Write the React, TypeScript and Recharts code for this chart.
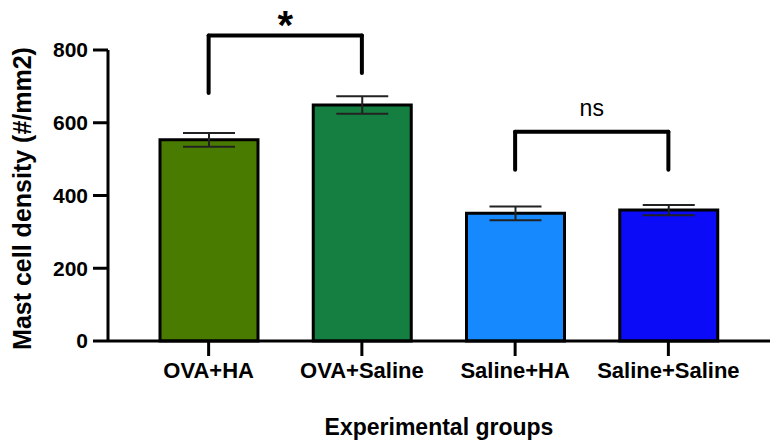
import { BarChart, Bar, XAxis, YAxis, ErrorBar, Cell, ReferenceLine } from "recharts";

const groups = ["OVA+HA", "OVA+Saline", "Saline+HA", "Saline+Saline"];
const density = [553, 649, 351, 360];
const sem = [19, 24, 19, 14];
const barColors = ["#487b00", "#157f42", "#1789ff", "#0b0bf7"];
const yTicks = [0, 200, 400, 600, 800];

// significance brackets: [left group, right group], top, left leg end, right leg end
const bracketPairs = [
  ["OVA+HA", "OVA+Saline"],
  ["Saline+HA", "Saline+Saline"],
];
const bracketTop = [840, 575];
const bracketLeftEnd = [682, 471];
const bracketRightEnd = [737, 471];
const bracketText = ["*", "ns"];

const data = groups.map((g, i) => ({ group: g, value: density[i], err: sem[i] }));

const FONT = "'Liberation Sans', Arial, Helvetica, sans-serif";

function Bracket({ idx }: { idx: number }) {
  return null;
}

export default function App() {
  const line = { stroke: "#000", strokeWidth: 4, strokeLinecap: "round" as const, ifOverflow: "visible" as const };

  return (
    <div style={{ position: "absolute", left: 0, top: 0, background: "#fff" }}>
      <BarChart
        width={776}
        height={446}
        data={data}
        margin={{ top: 50, right: 6, bottom: 0, left: 0 }}
        barCategoryGap={0}
      >
        <XAxis
          dataKey="group"
          stroke="#000"
          strokeWidth={3}
          tickSize={15}
          tickMargin={6}
          height={105}
          padding={{ left: 24, right: 25 }}
          tick={{ fill: "#000", fontSize: 22, fontWeight: 700, fontFamily: FONT }}
          tickLine={{ stroke: "#000", strokeWidth: 3 }}
          label={(props: any) => {
            const vb = props.viewBox;
            return (
              <text
                x={vb.x + vb.width / 2}
                y={vb.y + 86}
                textAnchor="middle"
                dominantBaseline="central"
                fontFamily={FONT}
                fontSize={23}
                fontWeight={700}
                fill="#000"
              >
                Experimental groups
              </text>
            );
          }}
        />
        <YAxis
          domain={[0, 800]}
          ticks={yTicks}
          width={108}
          stroke="#000"
          strokeWidth={3}
          tickSize={15}
          tickMargin={5}
          tick={{ fill: "#000", fontSize: 21, fontWeight: 700, fontFamily: FONT }}
          tickLine={{ stroke: "#000", strokeWidth: 3 }}
          label={(props: any) => {
            const vb = props.viewBox;
            const cx = vb.x + 22;
            const cy = vb.y + vb.height / 2 + 3;
            return (
              <text
                x={cx}
                y={cy}
                transform={`rotate(-90, ${cx}, ${cy})`}
                textAnchor="middle"
                dominantBaseline="central"
                fontFamily={FONT}
                fontSize={25}
                fontWeight={700}
                fill="#000"
              >
                Mast cell density (#/mm2)
              </text>
            );
          }}
        />
        <Bar dataKey="value" barSize={98} stroke="#000" strokeWidth={3} isAnimationActive={false}>
          {data.map((d, i) => (
            <Cell key={d.group} fill={barColors[i]} />
          ))}
          <ErrorBar dataKey="err" width={26} stroke="#222" strokeWidth={2} isAnimationActive={false} />
        </Bar>
        {bracketPairs.map(([a, b], i) => [
          <ReferenceLine
            key={`h${i}`}
            {...line}
            segment={[
              { x: a, y: bracketTop[i] },
              { x: b, y: bracketTop[i] },
            ]}
            label={(props: any) => {
              const vb = props.viewBox;
              const star = bracketText[i] === "*";
              return (
                <text
                  x={vb.x + vb.width / 2}
                  y={star ? vb.y + 4 : vb.y - 16}
                  textAnchor="middle"
                  fontFamily={FONT}
                  fontSize={star ? 40 : 23}
                  fontWeight={star ? 700 : 400}
                  fill="#000"
                >
                  {bracketText[i]}
                </text>
              );
            }}
          />,
          <ReferenceLine
            key={`l${i}`}
            {...line}
            segment={[
              { x: a, y: bracketTop[i] },
              { x: a, y: bracketLeftEnd[i] },
            ]}
          />,
          <ReferenceLine
            key={`r${i}`}
            {...line}
            segment={[
              { x: b, y: bracketTop[i] },
              { x: b, y: bracketRightEnd[i] },
            ]}
          />,
        ])}
      </BarChart>
    </div>
  );
}
